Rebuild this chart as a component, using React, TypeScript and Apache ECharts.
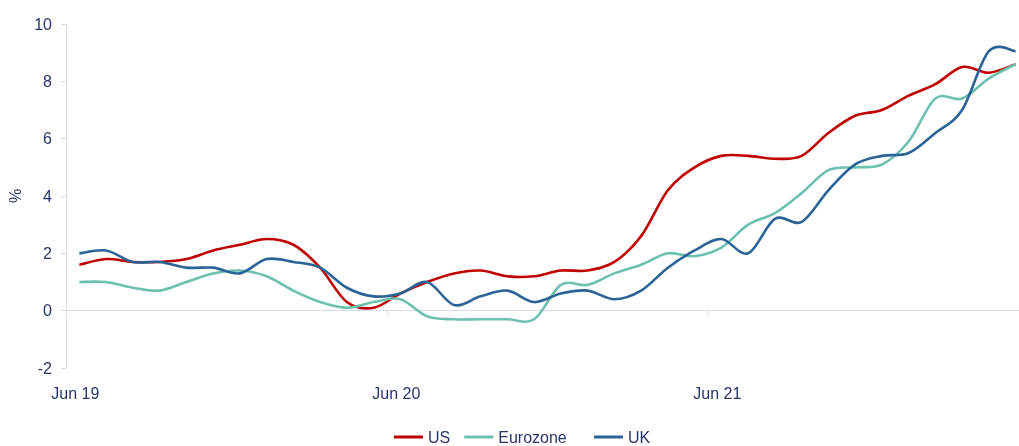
import React, { useEffect, useRef } from "react";
import * as echarts from "echarts";

const months = [
  "Jun 19","Jul 19","Aug 19","Sep 19","Oct 19","Nov 19","Dec 19","Jan 20","Feb 20","Mar 20","Apr 20","May 20",
  "Jun 20","Jul 20","Aug 20","Sep 20","Oct 20","Nov 20","Dec 20","Jan 21","Feb 21","Mar 21","Apr 21","May 21",
  "Jun 21","Jul 21","Aug 21","Sep 21","Oct 21","Nov 21","Dec 21","Jan 22","Feb 22","Mar 22","Apr 22","May 22",
];

const us = [1.6,1.8,1.7,1.7,1.8,2.1,2.3,2.5,2.3,1.5,0.3,0.1,0.6,1.0,1.3,1.4,1.2,1.2,1.4,1.4,1.7,2.6,4.2,5.0,5.4,5.4,5.3,5.4,6.2,6.8,7.0,7.5,7.9,8.5,8.3,8.6];
const eurozone = [1.0,1.0,0.8,0.7,1.0,1.3,1.4,1.2,0.7,0.3,0.1,0.3,0.4,-0.2,-0.3,-0.3,-0.3,-0.3,0.9,0.9,1.3,1.6,2.0,1.9,2.2,3.0,3.4,4.1,4.9,5.0,5.1,5.9,7.4,7.4,8.1,8.6];
const uk = [2.0,2.1,1.7,1.7,1.5,1.5,1.3,1.8,1.7,1.5,0.8,0.5,0.6,1.0,0.2,0.5,0.7,0.3,0.6,0.7,0.4,0.7,1.5,2.1,2.5,2.0,3.2,3.1,4.2,5.1,5.4,5.5,6.2,7.0,9.05,9.05];

const textColor = "#27346a";
const font = "Liberation Sans, Arial, sans-serif";
const fs = 16;

function smoothPath(pts: number[][]): string {
  if (!pts.length) return "";
  let d = `M${pts[0][0]},${pts[0][1]}`;
  for (let i = 0; i < pts.length - 1; i++) {
    const p0 = pts[i - 1] || pts[i];
    const p1 = pts[i];
    const p2 = pts[i + 1];
    const p3 = pts[i + 2] || p2;
    const c1x = p1[0] + (p2[0] - p0[0]) / 6;
    const c1y = p1[1] + (p2[1] - p0[1]) / 6;
    const c2x = p2[0] - (p3[0] - p1[0]) / 6;
    const c2y = p2[1] - (p3[1] - p1[1]) / 6;
    d += ` C${c1x},${c1y} ${c2x},${c2y} ${p2[0]},${p2[1]}`;
  }
  return d;
}

export default function App() {
  const ref = useRef<HTMLDivElement>(null);
  useEffect(() => {
    if (!ref.current) return;
    const chart = echarts.init(ref.current, undefined, { renderer: "svg" });
    const mk = (name: string, values: number[], color: string) => ({
      name,
      type: "custom",
      xAxisIndex: 0,
      yAxisIndex: 0,
      data: values.map((v, i) => [i, v]),
      encode: { x: 0, y: 1 },
      itemStyle: { color },
      renderItem: (params: any, api: any) => {
        if (params.dataIndex !== 0) return null;
        const pts = values.map((v, i) => api.coord([i, v]));
        return {
          type: "path",
          shape: { pathData: smoothPath(pts) },
          style: { stroke: color, lineWidth: 2.6, fill: "none", lineJoin: "round" },
          silent: true,
        };
      },
    });
    const legendCommon = {
      top: 424,
      icon: "rect",
      itemWidth: 29,
      itemHeight: 3,
      itemGap: 14,
      textStyle: { color: textColor, fontSize: fs, fontFamily: font },
    };
    chart.setOption({
      animation: false,
      textStyle: { fontFamily: font },
      grid: { left: 66, top: 24, width: 963, height: 344, outerBoundsMode: "none", containLabel: false },
      legend: [
        { ...legendCommon, left: 389, data: ["US", "Eurozone"] },
        { ...legendCommon, left: 589, data: ["UK"] },
      ],
      xAxis: [
        {
          type: "category",
          data: months,
          boundaryGap: true,
          position: "bottom",
          axisLine: { show: false, onZero: false },
          axisTick: { show: false },
          axisLabel: {
            interval: 11,
            color: textColor,
            fontSize: fs,
            fontFamily: font,
            margin: 17,
            padding: [0, 8, 0, 0],
          },
          splitLine: { show: false },
        },
        {
          type: "category",
          data: months,
          boundaryGap: true,
          position: "bottom",
          axisLine: { show: true, onZero: true, lineStyle: { color: "#d9dcef", width: 1 } },
          axisTick: { show: true, interval: 11, length: 5, lineStyle: { color: "#d9dcef" } },
          axisLabel: { show: false },
          splitLine: { show: false },
        },
      ],
      yAxis: {
        type: "value",
        min: -2,
        max: 10,
        interval: 2,
        name: "%",
        nameLocation: "middle",
        nameGap: 42,
        nameRotate: 90,
        nameTextStyle: { color: textColor, fontSize: fs, fontFamily: font },
        axisLine: { show: true, lineStyle: { color: "#d9d9d9" } },
        axisTick: { show: true, length: 5, lineStyle: { color: "#d9d9d9" } },
        axisLabel: { color: textColor, fontSize: fs, fontFamily: font, margin: 14 },
        splitLine: { show: false },
      },
      series: [
        mk("US", us, "#c00000"),
        mk("Eurozone", eurozone, "#6cc0b0"),
        mk("UK", uk, "#2a6497"),
      ],
    });
    return () => chart.dispose();
  }, []);
  return (
    <div
      ref={ref}
      style={{ position: "fixed", left: 0, top: 0, width: 1019, height: 446 }}
    />
  );
}
